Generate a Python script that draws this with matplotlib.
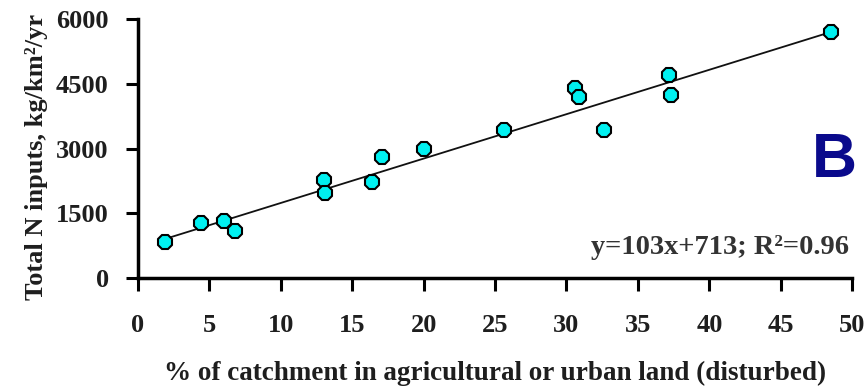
import numpy as np
import matplotlib
matplotlib.use('Agg')
import matplotlib.pyplot as plt

# % disturbed land vs total N inputs
pct_disturbed = [1.9, 4.4, 6.0, 6.8, 13.0, 13.1, 16.4, 17.1, 20.0, 25.6,
                 30.6, 30.9, 32.6, 37.2, 37.3, 48.5]
n_inputs = [840, 1280, 1320, 1090, 2280, 1970, 2240, 2800, 3000, 3440,
            4420, 4190, 3430, 4710, 4250, 5720]
slope, intercept = 103, 713
xticks = [0, 5, 10, 15, 20, 25, 30, 35, 40, 45, 50]
yticks = [0, 1500, 3000, 4500, 6000]

plt.rcParams['font.family'] = ['Liberation Serif', 'DejaVu Serif']
plt.rcParams['font.weight'] = 'bold'
txt = '#1e1e1e'

fig = plt.figure(figsize=(8.67, 3.89), dpi=100)
ax = fig.add_axes([0.159, 0.285, 0.824, 0.665])

xfit = np.array([min(pct_disturbed), max(pct_disturbed)])
ax.plot(xfit, slope * xfit + intercept, color='#111111', lw=1.3, zorder=2)
ax.plot(pct_disturbed, n_inputs, linestyle='none', marker='8', markersize=11.5,
        markerfacecolor='#00f0f0', markeredgecolor='black', markeredgewidth=1.5,
        clip_on=False, zorder=3)

ax.set_xlim(0, 50)
ax.set_ylim(0, 6000)
ax.set_xticks(xticks)
ax.set_yticks(yticks)
for s in ['top', 'right']:
    ax.spines[s].set_visible(False)
for s in ['left', 'bottom']:
    ax.spines[s].set_linewidth(2.5)
    ax.spines[s].set_color('black')
ax.tick_params(axis='both', direction='out', length=9, width=2.2,
               labelsize=19, colors='black', labelcolor=txt)
ax.tick_params(axis='x', pad=17)
ax.tick_params(axis='y', pad=12)

ax.set_xlabel('% of catchment in agricultural or urban land (disturbed)',
              fontsize=19.5, fontweight='bold', color=txt, labelpad=17)
ax.set_ylabel('Total N inputs, kg/km\u00b2/yr', fontsize=19,
              fontweight='bold', color=txt)
ax.yaxis.set_label_coords(-0.126, 0.47)

ax.text(0.995, 0.095, 'y=103x+713; R\u00b2=0.96', transform=ax.transAxes,
        ha='right', va='baseline', fontsize=20.5, fontweight='bold', color='#333333')
fig.text(0.988, 0.545, 'B', ha='right', va='baseline', fontsize=45,
         fontweight='bold', color='#0a0a8c', family='Liberation Sans')

fig.savefig('out.png', dpi=100)
